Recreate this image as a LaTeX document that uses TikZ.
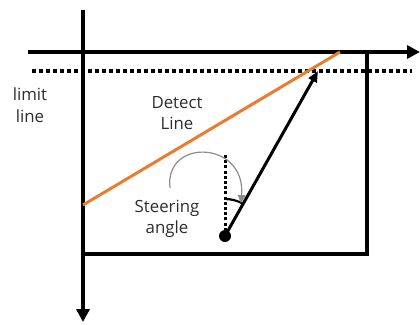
\documentclass[tikz,border=0pt]{standalone}
\usepackage{fontspec}
\setmainfont{Open Sans}
\usetikzlibrary{arrows.meta,calc}
\definecolor{detorange}{RGB}{232,124,48}
\definecolor{txtgray}{RGB}{45,45,45}
\definecolor{arcgray}{RGB}{140,140,140}
\begin{document}
\begin{tikzpicture}[x=1pt,y=-1pt,
  axis/.style={line width=4pt,-{Triangle[length=13pt,width=13pt]}},
  box/.style={line width=3.2pt},
  limitdots/.style={line width=3.5pt,dash pattern=on 4pt off 3pt},
  vdots/.style={line width=3pt,dash pattern=on 3pt off 2.2pt},
  lbl/.style={font=\fontsize{16.8}{21.5}\selectfont,text=txtgray,align=center,inner sep=0pt}]
\useasboundingbox (0,0) rectangle (420,324);
% coordinates
\coordinate (O) at (83,52);
\coordinate (xend) at (420,52);
\coordinate (xstart) at (28,52);
\coordinate (ytop) at (83,10);
\coordinate (yend) at (83,322);
\coordinate (BR) at (367,254);
\coordinate (L1) at (32,71);
\coordinate (L2) at (412,71);
\coordinate (D1) at (83,205);
\coordinate (D2) at (340,52);
\coordinate (V) at (225,236);
\coordinate (T) at (318,71);
\coordinate (Vt) at (225,154);
% box
\draw[box] (O) rectangle (BR);
% limit line
\draw[limitdots] (L1) -- (L2);
% axes
\draw[axis] (xstart) -- (xend);
\draw[axis] (ytop) -- (yend);
% detect line
\draw[detorange,line width=3pt] (D1) -- (D2);
% vertical reference
\draw[vdots] (V) -- (Vt);
% steering vector
\draw[line width=3pt,-{Triangle[length=11pt,width=9pt]}] (V) -- (T);
\fill (V) circle (6pt) node (dot) {};
% small angle arc
\draw[line width=2.2pt] ($(V)+(0,-37)$) arc[start angle=-90,end angle=-60.6,radius=37];
% gray curved arrow
\coordinate (g1) at (170,188);
\coordinate (g2) at (241,203);
\draw[arcgray,line width=1.2pt,-{Triangle[length=8pt,width=8pt]}] (g1) .. controls (164,138) and (246,140) .. (g2);
% labels
\node[lbl] (limit) at (30,105) {limit\\line};
\node[lbl] (detect) at (177,113) {Detect\\Line};
\node[lbl] (steer) at (167,219) {Steering\\angle};
\end{tikzpicture}
\end{document}
